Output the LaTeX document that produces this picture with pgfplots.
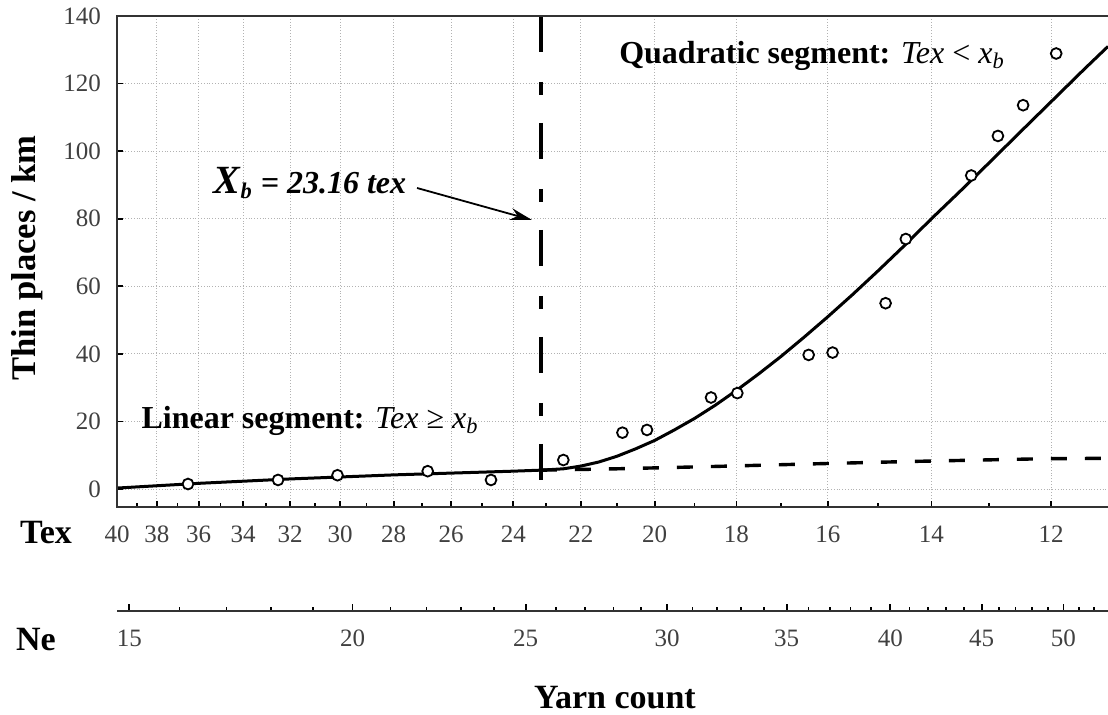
\documentclass[border=0pt]{standalone}
\usepackage{fontspec}
\setmainfont{Liberation Serif}
\usepackage{pgfplots}
\pgfplotsset{compat=1.18}
\usepackage{pgfplotstable}
\usetikzlibrary{arrows.meta}

\pgfplotstableread{
tex y
36.5 1.5
32.5 2.7
30.1 4.1
26.8 5.3
24.7 2.7
22.5 8.6
20.85 16.7
20.2 17.5
18.6 27.1
17.98 28.4
16.4 39.7
15.9 40.4
14.85 55.0
14.47 74.0
13.3 92.8
12.85 104.5
12.44 113.6
11.92 128.9
}\points

\pgfplotstableread{
tex y
40 0.3
36 1.7
32 3.0
28 4.2
24 5.3
23.16 5.6
}\linseg

\pgfplotstableread{
tex y
23.16 5.6
21 6.0
18.5 6.7
16.2 7.5
14.3 8.2
12.06 9.0
11.15 9.1
}\linext

\pgfplotstableread{
tex y
23.16 5.6
22.5 6.0
22 6.8
21.5 8.0
21 9.7
20.5 11.9
20 14.4
19.5 17.5
19 20.9
18.5 24.8
18 29.2
17.5 34.0
17 39.2
16.5 44.9
16 51.0
15.5 57.5
15 64.5
14.5 72.0
14 80.0
13.5 88.0
13 96.5
12.5 105.4
12 114.6
11.5 124.2
11.15 131.0
}\quadseg

\begin{document}
\begin{tikzpicture}
\useasboundingbox (0,0) rectangle (554pt,357.5pt);
\begin{axis}[
  at={(58.5pt,104pt)}, anchor=south west,
  width=495.5pt, height=245.5pt, scale only axis,
  xmode=log, xmin=14.7625, xmax=52.96,
  ymin=-5.3, ymax=140,
  axis line style={draw=none},
  clip=false,
  xtick={14.7625,15.5395,16.4028,17.3676,18.4531,19.6833,21.0893,22.7115,24.6042,26.8409,29.525,32.8056,36.9063,42.1786,49.2083},
  xticklabels={40,38,36,34,32,30,28,26,24,22,20,18,16,14,12},
  minor xtick={15.141,15.959,16.871,17.894,19.048,20.362,21.870,23.62,25.674,28.119,31.079,34.735,39.367,45.423},
  ytick={0,20,40,60,80,100,120,140},
  xtick pos=left, ytick pos=left,
  tick align=inside,
  major tick length=3pt, minor tick length=2pt,
  tick style={black, line width=0.9pt},
  grid=major,
  major grid style={densely dotted, gray!60, line width=0.5pt},
  ticklabel style={font=\fontsize{12.5}{13}\selectfont, text=black!75},
  /pgf/number format/assume math mode=true,
  yticklabel style={xshift=-4.5pt},
  xticklabel style={yshift=-6pt},
]
\addplot[black, line width=1.5pt] table[x expr=590.5/\thisrow{tex}, y=y] {\linseg};
\addplot[black, line width=1.7pt, dash pattern=on 8pt off 9pt] table[x expr=590.5/\thisrow{tex}, y=y] {\linext};
\addplot[black, line width=1.5pt] table[x expr=590.5/\thisrow{tex}, y=y] {\quadseg};
\addplot[black, line width=2pt, dash pattern=on 18pt off 15pt on 6.5pt off 14pt] coordinates {(25.496,140) (25.496,-5.3)};
\addplot[only marks, mark=*, mark size=2.7pt, mark options={fill=white, draw=black, line width=0.9pt}] table[x expr=590.5/\thisrow{tex}, y=y] {\points};
\draw[line width=1.4pt, black!80] (rel axis cs:1,1) -- (rel axis cs:0,1) -- (rel axis cs:0,0) -- (rel axis cs:1,0);
\end{axis}

\begin{axis}[
  at={(58.5pt,52pt)}, anchor=south west,
  width=495.5pt, height=10pt, scale only axis,
  xmode=log, xmin=14.7625, xmax=52.96,
  ymin=0, ymax=1,
  axis x line*=bottom, axis y line=none,
  ytick=\empty,
  xtick={15,20,25,30,35,40,45,50},
  xticklabels={15,20,25,30,35,40,45,50},
  minor xtick={16,17,18,19,21,22,23,24,26,27,28,29,31,32,33,34,36,37,38,39,41,42,43,44,46,47,48,49,51,52},
  tick align=inside,
  major tick length=3.5pt, minor tick length=2pt,
  tick style={black, line width=0.9pt},
  axis line style={line width=1.3pt, black!80},
  ticklabel style={font=\fontsize{12.5}{13}\selectfont, text=black!75},
  xticklabel style={yshift=-6pt},
]
\addplot[draw=none] coordinates {(20,0.5)};
\end{axis}

\node[rotate=90, font=\bfseries\fontsize{17.3}{17}\selectfont] at (13.5pt,228.5pt) {Thin places / km};
\node[font=\bfseries\fontsize{17}{17}\selectfont] at (23pt,91pt) {Tex};
\node[font=\bfseries\fontsize{17}{17}\selectfont] at (18pt,37.5pt) {Ne};
\node[font=\bfseries\fontsize{17}{17}\selectfont] at (307.5pt,8.5pt) {Yarn count};
\node[font=\fontsize{16}{16}\selectfont] at (406pt,329.5pt) {\textbf{Quadratic segment:} \textit{Tex} < \textit{x}\textsubscript{\textit{b}}};
\node[font=\fontsize{16}{16}\selectfont] at (155pt,147pt) {\textbf{Linear segment:} \textit{Tex} ≥ \textit{x}\textsubscript{\textit{b}}};
\node[font=\bfseries\itshape\fontsize{16}{16}\selectfont] at (155pt,266pt) {{\fontsize{20}{20}\selectfont X}\textsubscript{b} = 23.16 tex};
\draw[-{Stealth[length=11pt,width=6pt]}, line width=0.9pt] (208.5pt,263.5pt) -- (266pt,247.5pt);
\end{tikzpicture}
\end{document}
